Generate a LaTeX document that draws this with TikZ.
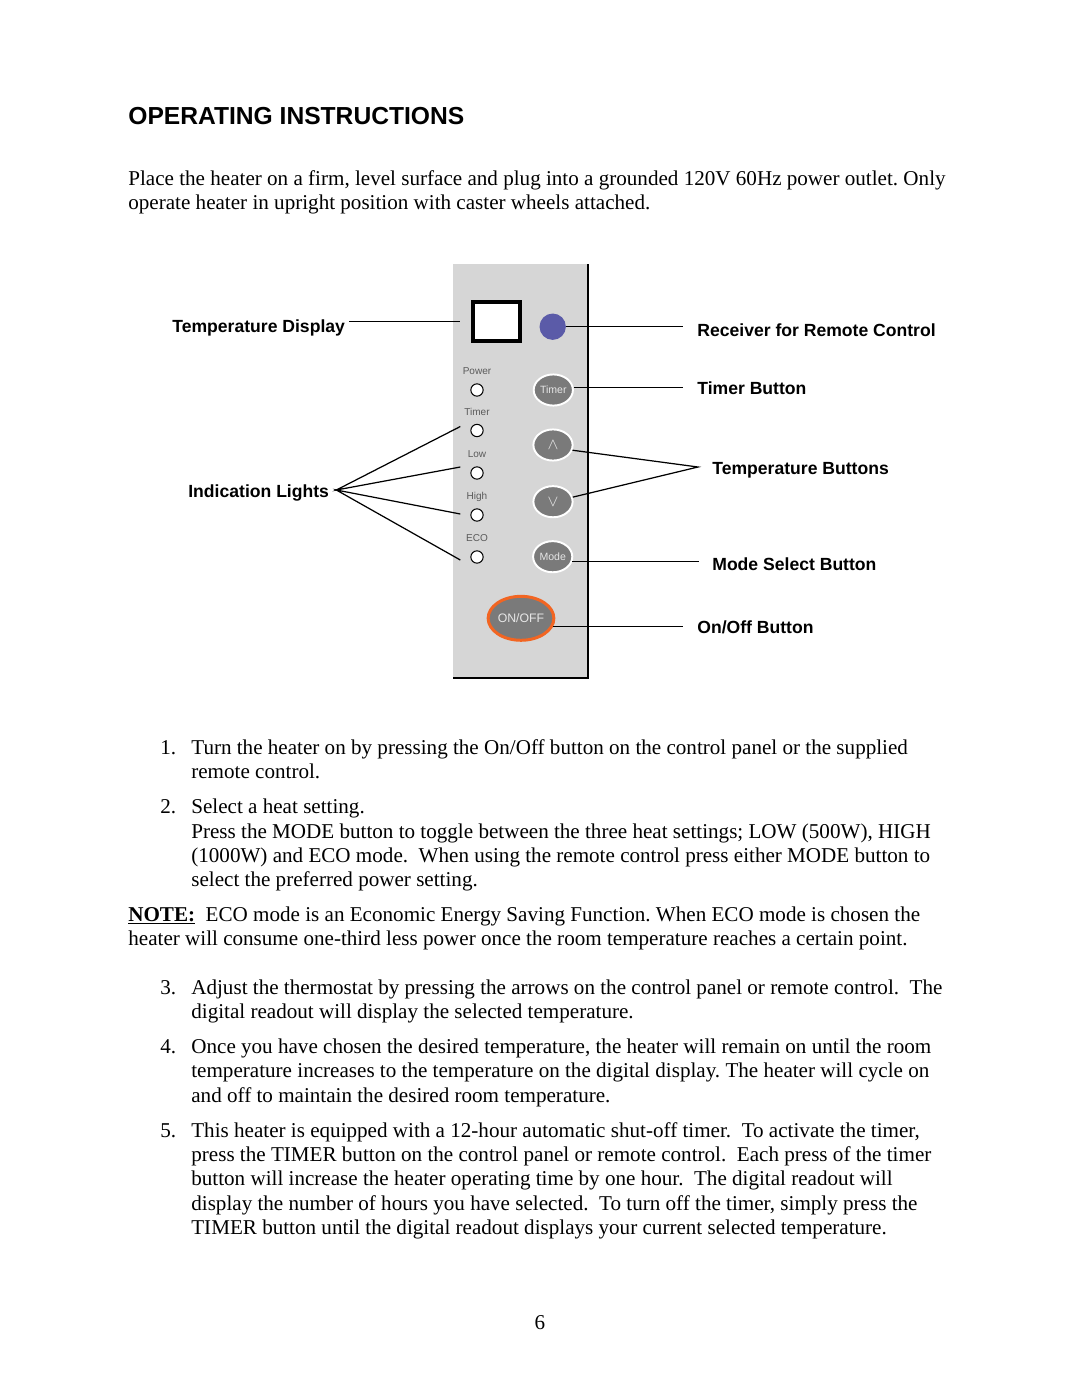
\documentclass[tikz,border=0pt]{standalone}
\usepackage{fontspec}
\setmainfont{Liberation Serif}
\setsansfont{Liberation Sans}
\usetikzlibrary{positioning, calc, shapes.geometric}
\definecolor{panelgray}{HTML}{D6D6D6}
\definecolor{btngray}{HTML}{7A7A7A}
\definecolor{btntext}{HTML}{E6E6E6}
\definecolor{rcvblue}{HTML}{5B5BA8}
\definecolor{ledtext}{HTML}{5A5A5A}
\definecolor{onoff}{HTML}{F26522}
\frenchspacing

\begin{document}
\begin{tikzpicture}[x=0.5688pt, y=-0.5688pt,
  body/.style = {anchor=base west, inner sep=0, font=\fontsize{12}{14}\selectfont},
  callout/.style = {anchor=base west, inner sep=0, font=\sffamily\bfseries\fontsize{10}{12}\selectfont},
  ledtag/.style = {anchor=base, inner sep=0, text=ledtext, font=\sffamily\fontsize{5.7}{6}\selectfont},
  led/.style = {circle, draw, fill=white, line width=0.6pt, minimum size=7pt, inner sep=0},
  btn/.style = {ellipse, fill=btngray, draw=white, line width=1.1pt, minimum width=22.3pt,
                minimum height=17.7pt, inner sep=0, text=btntext, font=\sffamily\fontsize{6}{7}\selectfont},
  lead/.style = {line width=0.7pt}]
      \useasboundingbox (0,0) rectangle (1080,1397);

      % heading and intro
      \node[anchor=base west, inner sep=0, font=\sffamily\bfseries\fontsize{14}{16}\selectfont] (head) at (128,124) {OPERATING INSTRUCTIONS};
      \node[body] (p1) at (128,185) {Place the heater on a firm, level surface and plug into a grounded 120V 60Hz power outlet. Only};
      \node[body] (p2) at (128,209) {operate heater in upright position with caster wheels attached.};

      % control panel
      \fill[panelgray] (453,264) rectangle (588,678);
      \draw[line width=1pt] (588,264) -- (588,678) -- (453,678);
      \node[draw, fill=white, line width=2.3pt, minimum width=26.7pt, minimum height=22.2pt, inner sep=0] (disp) at (496.3,321.7) {};
      \node[circle, fill=rcvblue, minimum size=15pt, inner sep=0] (rcv) at (552.7,326.7) {};
      \foreach \y/\t/\n in {390/Power/pow, 430.5/Timer/tim, 473/Low/low, 515/High/hig, 557/ECO/eco} {
        \node[led] (led\n) at (477,\y) {};
        \node[ledtag] (tag\n) at (477,\y-15.5) {\t};
      }
      \node[btn] (btimer) at (553.3,390) {Timer};
      \node[btn, font=\fontsize{9.5}{10}\selectfont] (bup) at (553,445) {$\wedge$};
      \node[btn, font=\fontsize{9.5}{10}\selectfont] (bdown) at (553,501.7) {$\vee$};
      \node[btn] (bmode) at (552.7,556.7) {Mode};
      \node[btn, draw=onoff, line width=1.7pt, minimum width=34pt, minimum height=25pt,
            font=\sffamily\fontsize{7}{8}\selectfont] (bonoff) at (521,618.3) {ON/OFF};

      % callouts
      \node[callout] (tdisp) at (172,332) {Temperature Display};
      \node[callout] (trcv) at (697,336) {Receiver for Remote Control};
      \node[callout] (ttimer) at (697,394) {Timer Button};
      \node[callout] (ttemp) at (712,474) {Temperature Buttons};
      \node[callout] (tind) at (188,497) {Indication Lights};
      \node[callout] (tmode) at (712,570) {Mode Select Button};
      \node[callout] (toff) at (697,633) {On/Off Button};

      \coordinate (tempfan) at ($(ttemp.base west)+(-14,-7)$);
      \coordinate (lightfan) at ($(tind.base east)+(7,-7)$);
      \draw[lead] ($(disp.west -| tdisp.east)+(4,0)$) -- ($(disp.west)+(-11,0)$);
      \draw[lead] (rcv.east) -- ($(rcv.east -| trcv.west)+(-14,0)$);
      \draw[lead] (btimer.8) -- ($(btimer.8 -| ttimer.west)+(-14,0)$);
      \draw[lead] (bup.-15) -- (tempfan) -- (bdown.13);
      \draw[lead] (bmode.-14) -- ($(bmode.-14 -| tmode.west)+(-13,0)$);
      \draw[lead] (bonoff.-14) -- ($(bonoff.-14 -| toff.west)+(-14,0)$);
      \draw[lead] ($(ledtim.west)+(-10,-4)$) -- (lightfan) -- ($(ledlow.west)+(-10,-6)$);
      \draw[lead] ($(ledhig.west)+(-10,-1)$) -- (lightfan) -- ($(ledeco.west)+(-10,3)$);

      % numbered steps
      \node[body] (n1) at (160,754) {1.};
      \node[body] (s1a) at (191,754) {Turn the heater on by pressing the On/Off button on the control panel or the supplied};
      \node[body] (s1b) at (191,778) {remote control.};
      \node[body] (n2) at (160,813) {2.};
      \node[body] (s2a) at (191,813) {Select a heat setting.};
      \node[body] (s2b) at (191,838) {Press the MODE button to toggle between the three heat settings; LOW (500W), HIGH};
      \node[body] (s2c) at (191,862) {(1000W) and ECO mode.~ When using the remote control press either MODE button to};
      \node[body] (s2d) at (191,886) {select the preferred power setting.};
      \node[body] (note1) at (128,921) {\underline{\textbf{NOTE:}}~ ECO mode is an Economic Energy Saving Function. When ECO mode is chosen the};
      \node[body] (note2) at (128,945) {heater will consume one-third less power once the room temperature reaches a certain point.};
      \node[body] (n3) at (160,994) {3.};
      \node[body] (s3a) at (191,994) {Adjust the thermostat by pressing the arrows on the control panel or remote control.~ The};
      \node[body] (s3b) at (191,1018) {digital readout will display the selected temperature.};
      \node[body] (n4) at (160,1053) {4.};
      \node[body] (s4a) at (191,1053) {Once you have chosen the desired temperature, the heater will remain on until the room};
      \node[body] (s4b) at (191,1077) {temperature increases to the temperature on the digital display. The heater will cycle on};
      \node[body] (s4c) at (191,1102) {and off to maintain the desired room temperature.};
      \node[body] (n5) at (160,1137) {5.};
      \node[body] (s5a) at (191,1137) {This heater is equipped with a 12-hour automatic shut-off timer.~ To activate the timer,};
      \node[body] (s5b) at (191,1161) {press the TIMER button on the control panel or remote control.~ Each press of the timer};
      \node[body] (s5c) at (191,1185) {button will increase the heater operating time by one hour.~ The digital readout will};
      \node[body] (s5d) at (191,1210) {display the number of hours you have selected.~ To turn off the timer, simply press the};
      \node[body] (s5e) at (191,1234) {TIMER button until the digital readout displays your current selected temperature.};
      \node[body, anchor=base] (pg) at (540,1329) {6};
    \end{tikzpicture}
\end{document}
